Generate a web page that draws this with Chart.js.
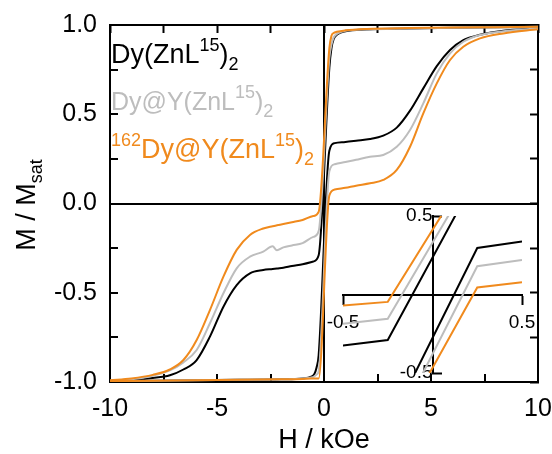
<!DOCTYPE html>
<html>
<head>
<meta charset="utf-8">
<script src="https://cdn.jsdelivr.net/npm/chart.js@4.4.1/dist/chart.umd.min.js"></script>
<style>
html, body { margin: 0; padding: 0; background: #ffffff; }
#wrap { position: relative; width: 552px; height: 454px; }
#wrap canvas { position: absolute; left: 0; top: 0; }
</style>
</head>
<body>
<div id="wrap">
  <canvas id="main" width="552" height="454"></canvas>
  <canvas id="inset" width="552" height="454"></canvas>
</div>
<script>
// ---------------- data ----------------
const seriesColors = ['#000000', '#bdbdbd', '#f08a1d'];
// legend label pieces: [kind, text]  (n = normal, sup = superscript, sub = subscript)
const legendBlack  = [['n', 'Dy(ZnL'], ['sup', '15'], ['n', ')'], ['sub', '2']];
const legendGray   = [['n', 'Dy@Y(ZnL'], ['sup', '15'], ['n', ')'], ['sub', '2']];
const legendOrange = [['sup', '162'], ['n', 'Dy@Y(ZnL'], ['sup', '15'], ['n', ')'], ['sub', '2']];

// field sweeping down (+10 -> -10 kOe)
const downH = [10, 8, 6, 4, 2, 1, 0.6, 0.45, 0.35, 0.25, -0.25, -0.5, -1, -1.5, -1.9, -2.2, -2.4, -2.84, -3.46, -4.08, -4.7, -5.33, -5.95, -6.57, -7.2, -8, -9, -10];
const blackDownM  = [0.99, 0.988, 0.985, 0.98, 0.975, 0.965, 0.945, 0.92, 0.87, 0.76, -0.29, -0.325, -0.34, -0.35, -0.36, -0.364, -0.367, -0.373, -0.391, -0.457, -0.578, -0.746, -0.877, -0.93, -0.962, -0.978, -0.99, -0.995];
const grayDownM   = [0.99, 0.988, 0.985, 0.98, 0.975, 0.968, 0.95, 0.93, 0.89, 0.815, -0.155, -0.187, -0.222, -0.235, -0.246, -0.262, -0.24, -0.27, -0.298, -0.363, -0.503, -0.671, -0.821, -0.89, -0.935, -0.965, -0.985, -0.993];
const orangeDownM = [0.99, 0.988, 0.986, 0.983, 0.978, 0.97, 0.962, 0.955, 0.94, 0.87, -0.047, -0.07, -0.092, -0.105, -0.115, -0.122, -0.127, -0.14, -0.176, -0.26, -0.41, -0.597, -0.765, -0.877, -0.93, -0.96, -0.98, -0.99];

// field sweeping up (-10 -> +10 kOe)
const upH = [-10, -8, -6, -4, -2, -1, -0.6, -0.45, -0.35, -0.25, 0.25, 0.5, 1, 1.5, 2.15, 2.77, 3.4, 4.02, 4.64, 5.27, 5.89, 6.51, 7.29, 8.38, 10];
const blackUpM  = [-0.995, -0.993, -0.99, -0.988, -0.985, -0.98, -0.97, -0.955, -0.92, -0.85, 0.296, 0.338, 0.345, 0.352, 0.361, 0.38, 0.425, 0.52, 0.645, 0.77, 0.86, 0.915, 0.945, 0.968, 0.981];
const grayUpM   = [-0.995, -0.993, -0.99, -0.988, -0.985, -0.98, -0.975, -0.968, -0.958, -0.94, 0.18, 0.22, 0.232, 0.245, 0.262, 0.272, 0.318, 0.412, 0.561, 0.729, 0.841, 0.906, 0.944, 0.965, 0.98];
const orangeUpM = [-0.995, -0.993, -0.99, -0.988, -0.985, -0.983, -0.981, -0.98, -0.98, -0.98, 0.045, 0.078, 0.088, 0.1, 0.113, 0.132, 0.188, 0.318, 0.505, 0.673, 0.804, 0.878, 0.925, 0.953, 0.976];

// axes
const xRange = [-10, 10];
const yRange = [-1, 1];
const insetRange = [-0.5, 0.5];
const insetTicks = [-0.5, 0.5];

// ---------------- build ----------------
const FONT = "'Liberation Sans', Arial, Helvetica, sans-serif";
const toPts = (H, M) => H.map((h, i) => ({ x: h, y: M[i] }));
const seriesDefs = [
  { down: blackDownM,  up: blackUpM,  color: seriesColors[0], order: 3 },
  { down: grayDownM,   up: grayUpM,   color: seriesColors[1], order: 2 },
  { down: orangeDownM, up: orangeUpM, color: seriesColors[2], order: 1 }
];
function makeDatasets(smooth) {
  const out = [];
  seriesDefs.forEach(s => {
    [[downH, s.down], [upH, s.up]].forEach(([H, M]) => {
      out.push({
        data: toPts(H, M),
        showLine: true,
        borderColor: s.color,
        backgroundColor: s.color,
        borderWidth: 2,
        pointRadius: 0,
        pointHoverRadius: 0,
        fill: false,
        tension: 0,
        cubicInterpolationMode: smooth ? 'monotone' : 'default',
        order: s.order,
        xAxisID: 'x',
        yAxisID: 'y'
      });
    });
  });
  return out;
}

const isMult = (v, m) => Math.abs(v / m - Math.round(v / m)) < 1e-9;
const frameGrid = {
  drawOnChartArea: false, drawTicks: true, tickLength: -8, tickColor: '#000', tickWidth: 2
};
const frameBorder = { display: true, color: '#000', width: 2 };
const zeroColor = ctx => (ctx.tick && Math.abs(ctx.tick.value) < 1e-9 ? '#000' : 'rgba(0,0,0,0)');
const fixH = h => s => { s.height = h; s.paddingLeft = 0; s.paddingRight = 0; };
const fixW = w => s => { s.width = w; s.paddingTop = 0; s.paddingBottom = 0; };

const legendPlugin = {
  id: 'legendText',
  afterDraw(chart) {
    const ctx = chart.ctx;
    const lines = [legendBlack, legendGray, legendOrange];
    const baselines = [63, 110, 158];
    const sizes = [27, 25, 27];
    ctx.save();
    ctx.textAlign = 'left';
    ctx.textBaseline = 'alphabetic';
    lines.forEach((parts, i) => {
      let x = chart.chartArea.left + 1;
      ctx.fillStyle = seriesColors[i];
      parts.forEach(([kind, txt]) => {
        const size = kind === 'n' ? sizes[i] : 18;
        const dy = kind === 'sup' ? -12 : (kind === 'sub' ? 7 : 0);
        ctx.font = size + 'px ' + FONT;
        ctx.fillText(txt, x, baselines[i] + dy);
        x += ctx.measureText(txt).width;
      });
    });
    ctx.restore();
  }
};

const yTitlePlugin = {
  id: 'yTitle',
  afterDraw(chart) {
    const ctx = chart.ctx;
    const mainTxt = 'M / M', subTxt = 'sat';
    ctx.save();
    ctx.fillStyle = '#000';
    ctx.textAlign = 'left';
    ctx.textBaseline = 'alphabetic';
    ctx.font = '27px ' + FONT;
    const w1 = ctx.measureText(mainTxt).width;
    ctx.font = '18px ' + FONT;
    const w2 = ctx.measureText(subTxt).width;
    ctx.translate(35, 205);
    ctx.rotate(-Math.PI / 2);
    const x0 = -(w1 + w2) / 2;
    ctx.font = '27px ' + FONT;
    ctx.fillText(mainTxt, x0, 0);
    ctx.font = '18px ' + FONT;
    ctx.fillText(subTxt, x0 + w1, 7);
    ctx.restore();
  }
};

new Chart(document.getElementById('main'), {
  type: 'scatter',
  data: { datasets: makeDatasets(true) },
  plugins: [legendPlugin, yTitlePlugin],
  options: {
    responsive: false,
    animation: false,
    devicePixelRatio: 1,
    layout: { padding: 0 },
    plugins: { legend: { display: false }, tooltip: { enabled: false } },
    scales: {
      x: {
        type: 'linear', position: 'bottom', min: xRange[0], max: xRange[1],
        ticks: {
          stepSize: 2.5, autoSkip: false, maxRotation: 0, padding: 20, color: '#000',
          font: { family: FONT, size: 25 },
          callback: v => (isMult(v, 5) ? String(Math.round(v)) : '')
        },
        grid: { drawOnChartArea: true, color: zeroColor, lineWidth: 2, drawTicks: true, tickLength: -8, tickColor: '#000', tickWidth: 2 },
        border: frameBorder,
        title: { display: true, text: 'H / kOe', color: '#000', font: { family: FONT, size: 27, lineHeight: 1 }, padding: { top: 0, bottom: 0 } },
        afterFit: fixH(72)
      },
      x2: {
        type: 'linear', position: 'top', min: xRange[0], max: xRange[1],
        ticks: { stepSize: 2.5, autoSkip: false, maxRotation: 0, callback: () => '' },
        grid: frameGrid,
        border: frameBorder,
        afterFit: fixH(25)
      },
      y: {
        type: 'linear', position: 'left', min: yRange[0], max: yRange[1],
        ticks: {
          stepSize: 0.25, autoSkip: false, padding: 21, color: '#000',
          font: { family: FONT, size: 25 },
          callback: v => (isMult(v, 0.5) ? v.toFixed(1) : '')
        },
        grid: { drawOnChartArea: true, color: zeroColor, lineWidth: 2, drawTicks: true, tickLength: -8, tickColor: '#000', tickWidth: 2 },
        border: frameBorder,
        afterFit: fixW(110)
      },
      y2: {
        type: 'linear', position: 'right', min: yRange[0], max: yRange[1],
        ticks: { stepSize: 0.25, autoSkip: false, callback: () => '' },
        grid: frameGrid,
        border: frameBorder,
        afterFit: fixW(14)
      }
    }
  }
});

// ---------------- inset ----------------
new Chart(document.getElementById('inset'), {
  type: 'scatter',
  data: { datasets: makeDatasets(false) },
  options: {
    responsive: false,
    animation: false,
    devicePixelRatio: 1,
    layout: { padding: { left: 343, right: 30, top: 216, bottom: 81 } },
    plugins: { legend: { display: false }, tooltip: { enabled: false } },
    scales: {
      x: {
        type: 'linear', min: insetRange[0], max: insetRange[1], position: { y: 0 },
        afterBuildTicks: s => { s.ticks = insetTicks.map(v => ({ value: v })); },
        ticks: { autoSkip: false, maxRotation: 0, padding: 8, color: '#000', font: { family: FONT, size: 19 }, callback: v => v.toFixed(1) },
        grid: { drawOnChartArea: false, drawTicks: true, tickLength: 9, tickColor: '#000', tickWidth: 2 },
        border: frameBorder
      },
      y: {
        type: 'linear', min: insetRange[0], max: insetRange[1], position: { x: 0 },
        afterBuildTicks: s => { s.ticks = insetTicks.map(v => ({ value: v })); },
        ticks: { autoSkip: false, padding: 2, color: '#000', font: { family: FONT, size: 19 }, callback: v => v.toFixed(1) },
        grid: { drawOnChartArea: false, drawTicks: true, tickLength: -10, tickColor: '#000', tickWidth: 2 },
        border: frameBorder
      }
    }
  }
});
</script>
</body>
</html>
